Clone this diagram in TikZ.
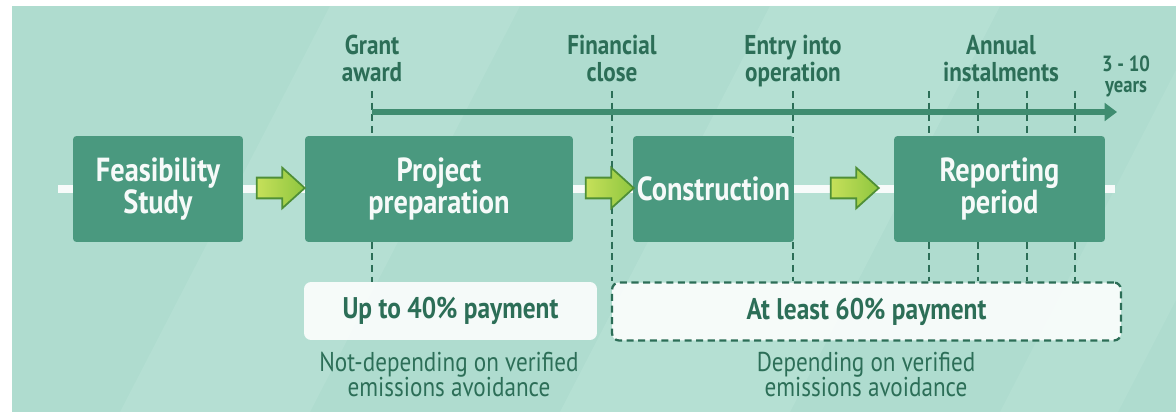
\documentclass[tikz,border=0pt]{standalone}
\usepackage{fontspec}
\setmainfont{PT Sans}[FakeStretch=0.85]
\usetikzlibrary{positioning,shapes.arrows,arrows.meta}

\definecolor{mint}{HTML}{AFDCCF}
\definecolor{mintlight}{HTML}{C3E8DD}
\definecolor{stage}{HTML}{4A997F}
\definecolor{darkgreen}{HTML}{2C6E57}
\definecolor{axisgreen}{HTML}{3F8C70}
\definecolor{limelight}{HTML}{C6E05A}
\definecolor{limemid}{HTML}{8EC63F}
\definecolor{limedark}{HTML}{4F8F36}

\begin{document}
\begin{tikzpicture}[
        x=0.02cm, y=-0.02cm,
        stagebox/.style={rectangle, rounded corners=2pt, fill=stage, text=white!95!stage, font=\bfseries\fontsize{19}{16.5}\selectfont, align=center, minimum height=2.12cm, inner sep=0pt},
        milestone/.style={text=darkgreen, font=\bfseries\fontsize{15.5}{15.5}\selectfont, align=center, inner sep=0pt, text depth=0pt, anchor=south},
        paybox/.style={rectangle, rounded corners=4pt, fill=white, fill opacity=0.88, text opacity=1, text=darkgreen, font=\bfseries\fontsize{17}{16}\selectfont, minimum height=1.16cm},
        note/.style={text=darkgreen, font=\fontsize{15.5}{14.5}\selectfont, align=center, inner sep=0pt, text depth=0pt, anchor=south},
        tick/.style={darkgreen, line width=1.4pt, dash pattern=on 4pt off 2.6pt},
        steparrow/.style={single arrow, draw=limedark, line width=1pt, left color=limelight, right color=limemid, minimum height=0.96cm, inner sep=0.19cm, single arrow head extend=0.2cm, single arrow tip angle=84}
    ]
        \useasboundingbox (0,0) rectangle (1176,412);

        % Nền
        \fill[mint] (12,6) rectangle (1176,412);
        \fill[mintlight, opacity=0.3] (120,412) -- (330,6) -- (520,6) -- (310,412) -- cycle;
        \fill[mintlight, opacity=0.35] (560,412) -- (770,6) -- (1000,6) -- (790,412) -- cycle;
        \fill[mintlight, opacity=0.25] (1000,412) -- (1176,70) -- (1176,300) -- (1118,412) -- cycle;

        % Đường trắng nối các giai đoạn
        \coordinate (lineL) at (58,189);
        \coordinate (lineR) at (1115,189);
        \draw[white, line width=5pt, opacity=0.9] (lineL) -- (lineR);

        % Các mốc thời gian
        \coordinate (tG) at (372,91);
        \coordinate (tF) at (612,91);
        \coordinate (tE) at (793,91);
        \coordinate (tA1) at (929,91);
        \coordinate (tA2) at (978,91);
        \coordinate (tA3) at (1027,91);
        \coordinate (tA4) at (1075,91);
        \node[milestone, above=5pt of tG] (grant) {Grant\\award};
        \node[milestone, above=5pt of tF] (fin) {Financial\\close};
        \node[milestone, above=5pt of tE] (entry) {Entry into\\operation};
        \node[milestone] (annual) at (1001,82) {Annual\\instalments};
        \node[milestone, font=\bfseries\fontsize{12.5}{12}\selectfont] (years) at (1126,93) {3 - 10\\years};

        % Các khoản thanh toán
        \node[paybox, minimum width=5.86cm] (up40) at (450.5,311) {Up to 40\% payment};
        \node[paybox, minimum width=10.18cm, draw=darkgreen, line width=1.3pt, dash pattern=on 4pt off 2.6pt, draw opacity=1] (at60) at (866.5,311.5) {At least 60\% payment};

        % Đường nét đứt
        \draw[tick] (tG) -- (tG |- up40.north);
        \draw[tick] (tF) -- (tF |- at60.north);
        \draw[tick] (tE) -- (tE |- at60.north);
        \draw[tick] (tA1) -- (tA1 |- at60.north);
        \draw[tick] (tA2) -- (tA2 |- at60.north);
        \draw[tick] (tA3) -- (tA3 |- at60.north);
        \draw[tick] (tA4) -- (tA4 |- at60.north);

        % Trục thời gian
        \coordinate (axisL) at (372,112);
        \coordinate (axisR) at (1117,112);
        \draw[axisgreen, line width=3.4pt, -{Triangle[length=7pt, width=10pt]}] (axisL) -- (axisR);

        % Các giai đoạn
        \node[stagebox, minimum width=3.4cm] (feas) at (158,189) {Feasibility\\Study};
        \node[stagebox, minimum width=5.36cm] (prep) at (439,189) {Project\\preparation};
        \node[stagebox, minimum width=3.22cm] (cons) at (713.5,189) {Construction};
        \node[stagebox, minimum width=4.22cm] (rep) at (999.5,189) {Reporting\\period};

        % Mũi tên xanh
        \node[steparrow] (a1) at (275,188) {};
        \node[steparrow] (a2) at (604,188) {};
        \node[steparrow] (a3) at (849,188) {};

        % Ghi chú
        \node[note] (nodep) at (449,397) {Not-depending on verified\\emissions avoidance};
        \node[note] (dep) at (866,397) {Depending on verified\\emissions avoidance};
    \end{tikzpicture}
\end{document}
